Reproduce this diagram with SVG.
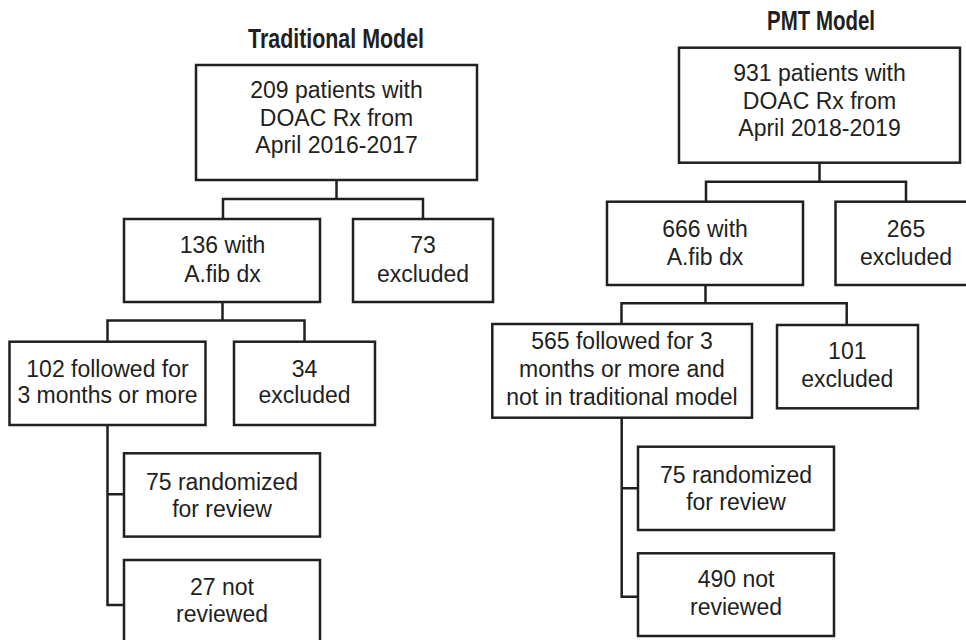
<svg xmlns="http://www.w3.org/2000/svg" width="966" height="640" viewBox="0 0 966 640">
<style>
.box{fill:#fff;stroke:#231f20;stroke-width:2.5}
.t{font-family:"Liberation Sans",Arial,sans-serif;font-size:23px;fill:#231f20;text-anchor:middle}
.h{font-family:"Liberation Sans",Arial,sans-serif;font-size:28px;font-weight:bold;fill:#231f20;text-anchor:middle}
.c{fill:none;stroke:#231f20;stroke-width:2.5}
</style>
<rect width="966" height="640" fill="#fff"/>
<text class="h" x="336" y="48" textLength="176" lengthAdjust="spacingAndGlyphs">Traditional Model</text>
<text class="h" x="821" y="30" textLength="108" lengthAdjust="spacingAndGlyphs">PMT Model</text>
<g id="connectors">
<path class="c" d="M336.5 180V199M223 219V199H423V219"/>
<path class="c" d="M222.5 302V320.5M107.5 341.7V320.5H304.5V341.7"/>
<path class="c" d="M107.5 425V605H124M107.5 494.3H124"/>
<path class="c" d="M819.5 162.7V181.7M706 201.7V181.7H906V201.7"/>
<path class="c" d="M705.5 285V303.3M621.5 324V303.3H846.7V325"/>
<path class="c" d="M621.7 417.7V596.7H638M621.7 488.3H638"/>
</g>
<g id="n1"><rect class="box" x="196" y="65" width="281" height="115"/>
<text class="t" x="336.5" y="97.7">209 patients with</text><text class="t" x="336.5" y="125.7">DOAC Rx from</text><text class="t" x="336.5" y="153">April 2016-2017</text></g>
<g id="n2"><rect class="box" x="124" y="219" width="196" height="83"/>
<text class="t" x="222.5" y="253">136 with</text><text class="t" x="222.5" y="281.7">A.fib dx</text></g>
<g id="n3"><rect class="box" x="353" y="219" width="140" height="83"/>
<text class="t" x="423" y="253">73</text><text class="t" x="423" y="281.7">excluded</text></g>
<g id="n4"><rect class="box" x="9.5" y="341.7" width="196" height="83.3"/>
<text class="t" x="107.5" y="376.7">102 followed for</text><text class="t" x="107.5" y="403.3">3 months or more</text></g>
<g id="n5"><rect class="box" x="234" y="341.7" width="141" height="83.3"/>
<text class="t" x="304.5" y="376.7">34</text><text class="t" x="304.5" y="403.3">excluded</text></g>
<g id="n6"><rect class="box" x="124" y="453.3" width="196" height="83.3"/>
<text class="t" x="222" y="490">75 randomized</text><text class="t" x="222" y="517.3">for review</text></g>
<g id="n7"><rect class="box" x="124" y="560" width="196" height="84"/>
<text class="t" x="222" y="595">27 not</text><text class="t" x="222" y="621.7">reviewed</text></g>
<g id="n8"><rect class="box" x="679" y="47.7" width="281" height="115"/>
<text class="t" x="819.5" y="81">931 patients with</text><text class="t" x="819.5" y="108.7">DOAC Rx from</text><text class="t" x="819.5" y="136">April 2018-2019</text></g>
<g id="n9"><rect class="box" x="607" y="201.7" width="196" height="83.3"/>
<text class="t" x="705" y="236.7">666 with</text><text class="t" x="705" y="265">A.fib dx</text></g>
<g id="n10"><rect class="box" x="835.5" y="201.7" width="141" height="83.3"/>
<text class="t" x="906" y="236.7">265</text><text class="t" x="906" y="265">excluded</text></g>
<g id="n11"><rect class="box" x="492.3" y="324" width="259.7" height="93.7"/>
<text class="t" x="622" y="349.3">565 followed for 3</text><text class="t" x="622" y="377.3">months or more and</text><text class="t" x="622" y="405">not in traditional model</text></g>
<g id="n12"><rect class="box" x="777" y="325" width="141" height="83.3"/>
<text class="t" x="847.3" y="359.3">101</text><text class="t" x="847.3" y="387.3">excluded</text></g>
<g id="n13"><rect class="box" x="638" y="446.7" width="196" height="83.3"/>
<text class="t" x="736" y="482.7">75 randomized</text><text class="t" x="736" y="510">for review</text></g>
<g id="n14"><rect class="box" x="638" y="553.3" width="196" height="82.7"/>
<text class="t" x="736" y="587.3">490 not</text><text class="t" x="736" y="615">reviewed</text></g>
</svg>
